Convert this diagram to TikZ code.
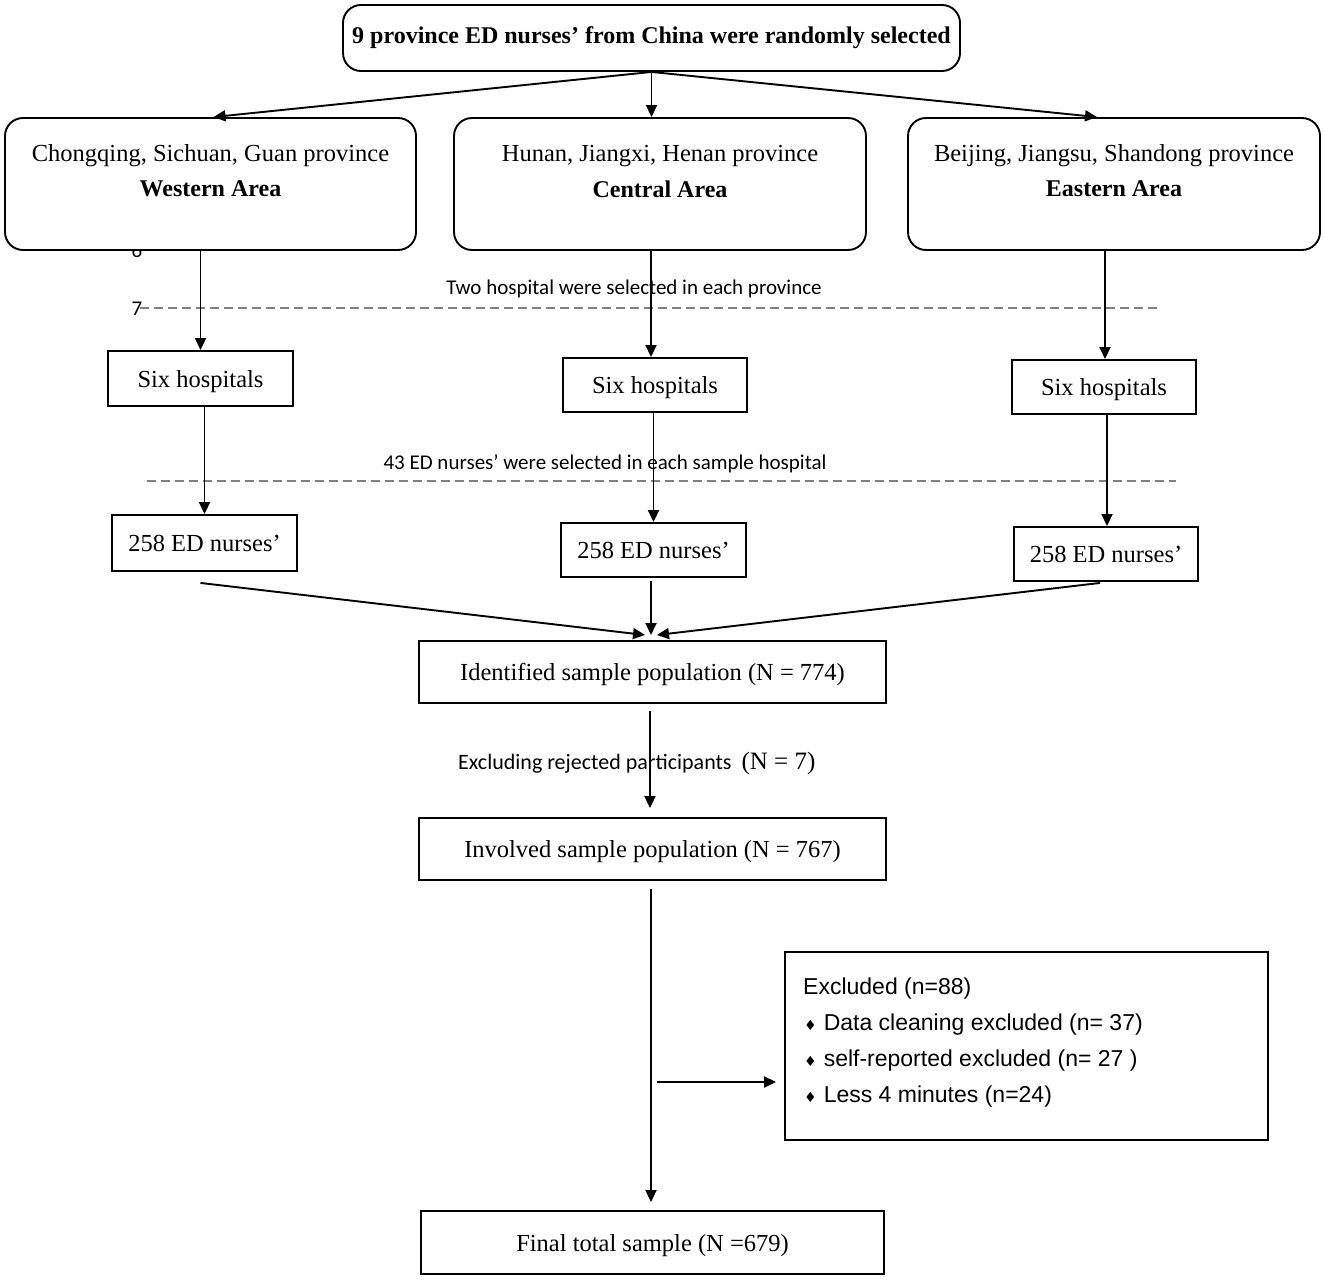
\documentclass[tikz,border=0pt]{standalone}
\usepackage{fontspec}
\setmainfont{Liberation Serif}
\newfontfamily\calfont{Carlito}
\newfontfamily\arialfont{Liberation Sans}
\newfontfamily\dejafont{DejaVu Sans}
\newcommand\bulsym{{\dejafont\fontsize{14}{16}\selectfont ♦}}
\usetikzlibrary{arrows.meta}
\begin{document}
\begin{tikzpicture}[x=1pt,y=-1pt,
  arr/.style={line width=1.9pt,-{Triangle[length=12pt,width=11pt]}},
  rbox/.style={draw,line width=1.9pt,rounded corners=18pt,fill=white,inner sep=0pt},
  sbox/.style={draw,line width=1.9pt,fill=white,inner sep=0pt},
  dline/.style={draw=gray,line width=1.3pt,dash pattern=on 9pt off 5pt},
  serif/.style={font=\fontsize{24.5}{28}\selectfont,text height=19pt,text depth=1.5pt},
  bserif/.style={font=\bfseries\fontsize{24}{28}\selectfont},
  sans/.style={font=\calfont\fontsize{21}{24}\selectfont},
  ar/.style={font=\arialfont\fontsize{23}{26}\selectfont,anchor=west,inner sep=0pt}
]
\useasboundingbox (0,0) rectangle (1325,1284);
\fill[white] (0,0) rectangle (1325,1284);

% stray numbers
\node[sans] (six) at (137,250) {6};
\node[sans] (seven) at (137,309) {7};

% top
\node[rbox,minimum width=617pt,minimum height=66pt,bserif] (top) at (651.5,38) {9 province ED nurses' from China were randomly selected};

% areas
\node[rbox,minimum width=411pt,minimum height=132pt] (west) at (210.5,184) {};
\node[rbox,minimum width=412pt,minimum height=132pt] (cent) at (660,184) {};
\node[rbox,minimum width=412pt,minimum height=132pt] (east) at (1114,184) {};
\node[serif] (w1) at (210.5,153) {Chongqing, Sichuan, Guan province};
\node[bserif] (w2) at (210.5,189) {Western Area};
\node[serif] (c1) at (660,153) {Hunan, Jiangxi, Henan province};
\node[bserif] (c2) at (660,189) {Central Area};
\node[serif] (e1) at (1114,153) {Beijing, Jiangsu, Shandong province};
\node[bserif] (e2) at (1114,189) {Eastern Area};

\draw[arr] (top.south) -- ([xshift=3pt]west.north);
\draw[arr] (top.south) -- (top.south |- cent.north);
\draw[arr] (top.south) -- ([xshift=-17pt]east.north);

% dashed 1
\coordinate (d1a) at (140,308);
\coordinate (d1b) at (1160,308);
\draw[dline] (d1a) -- (d1b);
\node[sans] (lab1) at (634,289) {Two hospital were selected in each province};

% six hospitals
\node[sbox,minimum width=185pt,minimum height=55pt,serif] (sixL) at (200.5,378.5) {Six hospitals};
\node[sbox,minimum width=184pt,minimum height=54pt,serif] (sixC) at (655,385) {Six hospitals};
\node[sbox,minimum width=184pt,minimum height=54pt,serif] (sixR) at (1104,387) {Six hospitals};

\draw[arr] (sixL.north |- west.south) -- (sixL.north);
\draw[arr] ([xshift=-4pt]sixC.north |- cent.south) -- ([xshift=-4pt]sixC.north);
\draw[arr] ([xshift=1pt]sixR.north |- east.south) -- ([xshift=1pt]sixR.north);

% dashed 2
\coordinate (d2a) at (147,481);
\coordinate (d2b) at (1176,481);
\draw[dline] (d2a) -- (d2b);
\node[sans] (lab2) at (605,464) {43 ED nurses’ were selected in each sample hospital};

% 258 boxes
\node[sbox,minimum width=185pt,minimum height=56pt,serif] (nL) at (204.5,543) {258 ED nurses’};
\node[sbox,minimum width=185pt,minimum height=54pt,serif] (nC) at (653.5,550) {258 ED nurses’};
\node[sbox,minimum width=184pt,minimum height=54pt,serif] (nR) at (1106,554) {258 ED nurses’};

\draw[arr] (nL.north |- sixL.south) -- (nL.north);
\draw[arr] (nC.north |- sixC.south) -- (nC.north);
\draw[arr] ([xshift=1pt]nR.north |- sixR.south) -- ([xshift=1pt]nR.north);

% merge
\coordinate (m) at (651,635);
\draw[arr] ([xshift=-4pt,yshift=-11pt]nL.south) -- ([xshift=-6pt]m);
\draw[arr] ([xshift=-2.5pt,yshift=-3pt]nC.south) -- (m);
\draw[arr] ([xshift=-6pt,yshift=-1pt]nR.south) -- ([xshift=6pt]m);

% identified / involved
\node[sbox,minimum width=467pt,minimum height=62pt,serif] (ident) at (652.5,672) {Identified sample population (N = 774)};
\node[sbox,minimum width=467pt,minimum height=62pt,serif] (invol) at (652.5,849) {Involved sample population (N = 767)};
\draw[arr,shorten >=9pt] ([xshift=-2.5pt,yshift=-7pt]ident.south) -- ([xshift=-2.5pt]invol.north);
\node[anchor=west,inner sep=0pt] (lab3) at (458,763) {\calfont\fontsize{22}{26}\selectfont Excluding rejected participants\hspace{10pt}\fontsize{25}{28}\rmfamily\selectfont (N = 7)};

% excluded
\node[sbox,minimum width=483pt,minimum height=188pt] (excl) at (1026.5,1046) {};
\node[ar] (x1) at (803,989) {Excluded (n=88)};
\node[ar] (x2) at (804,1025) {\bulsym\hspace{7pt}Data cleaning excluded (n= 37)};
\node[ar] (x3) at (804,1061) {\bulsym\hspace{7pt}self-reported excluded (n= 27 )};
\node[ar] (x4) at (804,1097) {\bulsym\hspace{7pt}Less 4 minutes (n=24)};

% final
\node[sbox,minimum width=463pt,minimum height=63pt,serif] (final) at (652.5,1242.5) {Final total sample (N =679)};
\draw[arr,shorten >=8pt] ([xshift=-1.5pt,yshift=-8pt]invol.south) -- ([xshift=-1.5pt]final.north);
\coordinate (side) at (657,1082);
\draw[arr,shorten >=8pt] (side) -- (excl.west |- side);
\end{tikzpicture}
\end{document}
